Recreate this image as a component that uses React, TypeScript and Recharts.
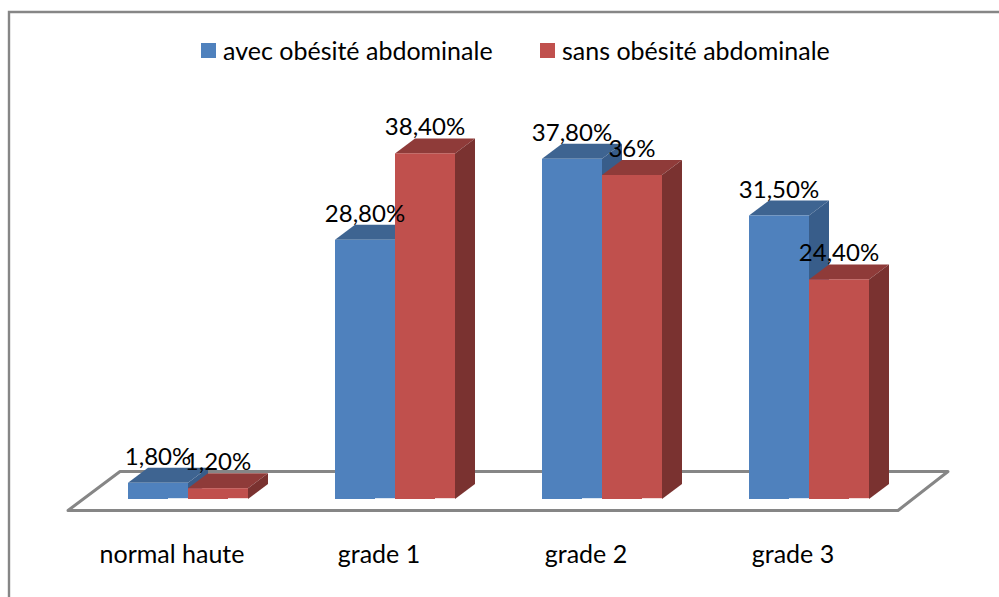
import React from "react";
import { BarChart, Bar, XAxis, YAxis, Legend, LabelList, Customized } from "recharts";

const categories = ["normal haute", "grade 1", "grade 2", "grade 3"];
const avecValues = [1.8, 28.8, 37.8, 31.5];
const sansValues = [1.2, 38.4, 36, 24.4];
const avecLabels = ["1,80%", "28,80%", "37,80%", "31,50%"];
const sansLabels = ["1,20%", "38,40%", "36%", "24,40%"];
const avecName = "avec obésité abdominale";
const sansName = "sans obésité abdominale";

const rows = categories.map((category, i) => ({
  category,
  avec: avecValues[i],
  sans: sansValues[i],
  avecLabel: avecLabels[i],
  sansLabel: sansLabels[i],
}));

const FONT = "Lato, Carlito, sans-serif";
const DX = 20;
const DY = 15;
const GREY = "#868686";

function bar3D(front: string, top: string, side: string, shine: string) {
  return (props: any) => {
    const { x, y, width, height } = props;
    const b = y + height;
    return (
      <g>
        <polygon points={`${x},${y} ${x + DX},${y - DY} ${x + width + DX},${y - DY} ${x + width},${y}`} fill={top} />
        <polygon points={`${x + width},${y} ${x + width + DX},${y - DY} ${x + width + DX},${b - DY} ${x + width},${b}`} fill={side} />
        <rect x={x} y={y} width={width} height={height} fill={front} />
        <rect x={x + width - DX} y={b - 1} width={DX} height={1} fill={shine} />
      </g>
    );
  };
}

const Floor = () => (
  <g>
    <path d="M9 597 V12 H999" fill="none" stroke={GREY} strokeWidth={2.4} />
    <polygon points="68,510.5 120,471.5 948,471.5 898,510.5" fill="#fff" stroke={GREY} strokeWidth={3} strokeLinejoin="round" />
  </g>
);

const LegendBox = ({ payload }: any) => (
  <div style={{ position: "relative", height: 40, fontFamily: FONT, fontSize: 25, color: "#000" }}>
    {(payload || []).map((p: any, i: number) => (
      <span key={p.value} style={{ position: "absolute", left: i === 0 ? 201 : 540, top: 0, whiteSpace: "nowrap", display: "flex", alignItems: "center", lineHeight: "30px" }}>
        <span style={{ display: "inline-block", width: 15, height: 15, background: p.color, marginRight: 7 }} />
        {p.value}
      </span>
    ))}
  </div>
);

const renderLabel = (key: "avecLabel" | "sansLabel") => (props: any) => {
  const { x, y, width, index } = props;
  return (
    <text x={x + width / 2} y={y - 18} textAnchor="middle" fontFamily={FONT} fontSize={24} fill="#000">
      {rows[index][key]}
    </text>
  );
};

export default function App() {
  return (
    <div style={{ position: "absolute", left: 0, top: 0, width: 999, height: 597, overflow: "hidden", background: "#fff" }}>
      <BarChart
        width={999}
        height={597}
        data={rows}
        barGap={0}
        barCategoryGap={43.5}
        margin={{ top: 99, right: 86.5, bottom: 0, left: 84.5 }}
      >
        <Customized component={Floor} />
        <XAxis
          dataKey="category"
          axisLine={false}
          tickLine={false}
          tickMargin={40}
          height={98}
          interval={0}
          tick={{ fontFamily: FONT, fontSize: 25, fill: "#000", dx: -16 }}
        />
        <YAxis hide domain={[0, 40]} />
        <Legend
          verticalAlign="top"
          content={<LegendBox />}
          wrapperStyle={{ position: "absolute", top: 35, left: 0, width: 999 }}
        />
        <Bar dataKey="avec" name={avecName} fill="#4F81BD" isAnimationActive={false}
          shape={bar3D("#4F81BD", "#3E6491", "#385D8A", "#DCE6F2")}>
          <LabelList dataKey="avec" content={renderLabel("avecLabel")} />
        </Bar>
        <Bar dataKey="sans" name={sansName} fill="#C0504D" isAnimationActive={false}
          shape={bar3D("#C0504D", "#8F3B39", "#7A3230", "#F2DCDB")}>
          <LabelList dataKey="sans" content={renderLabel("sansLabel")} />
        </Bar>
      </BarChart>
    </div>
  );
}
